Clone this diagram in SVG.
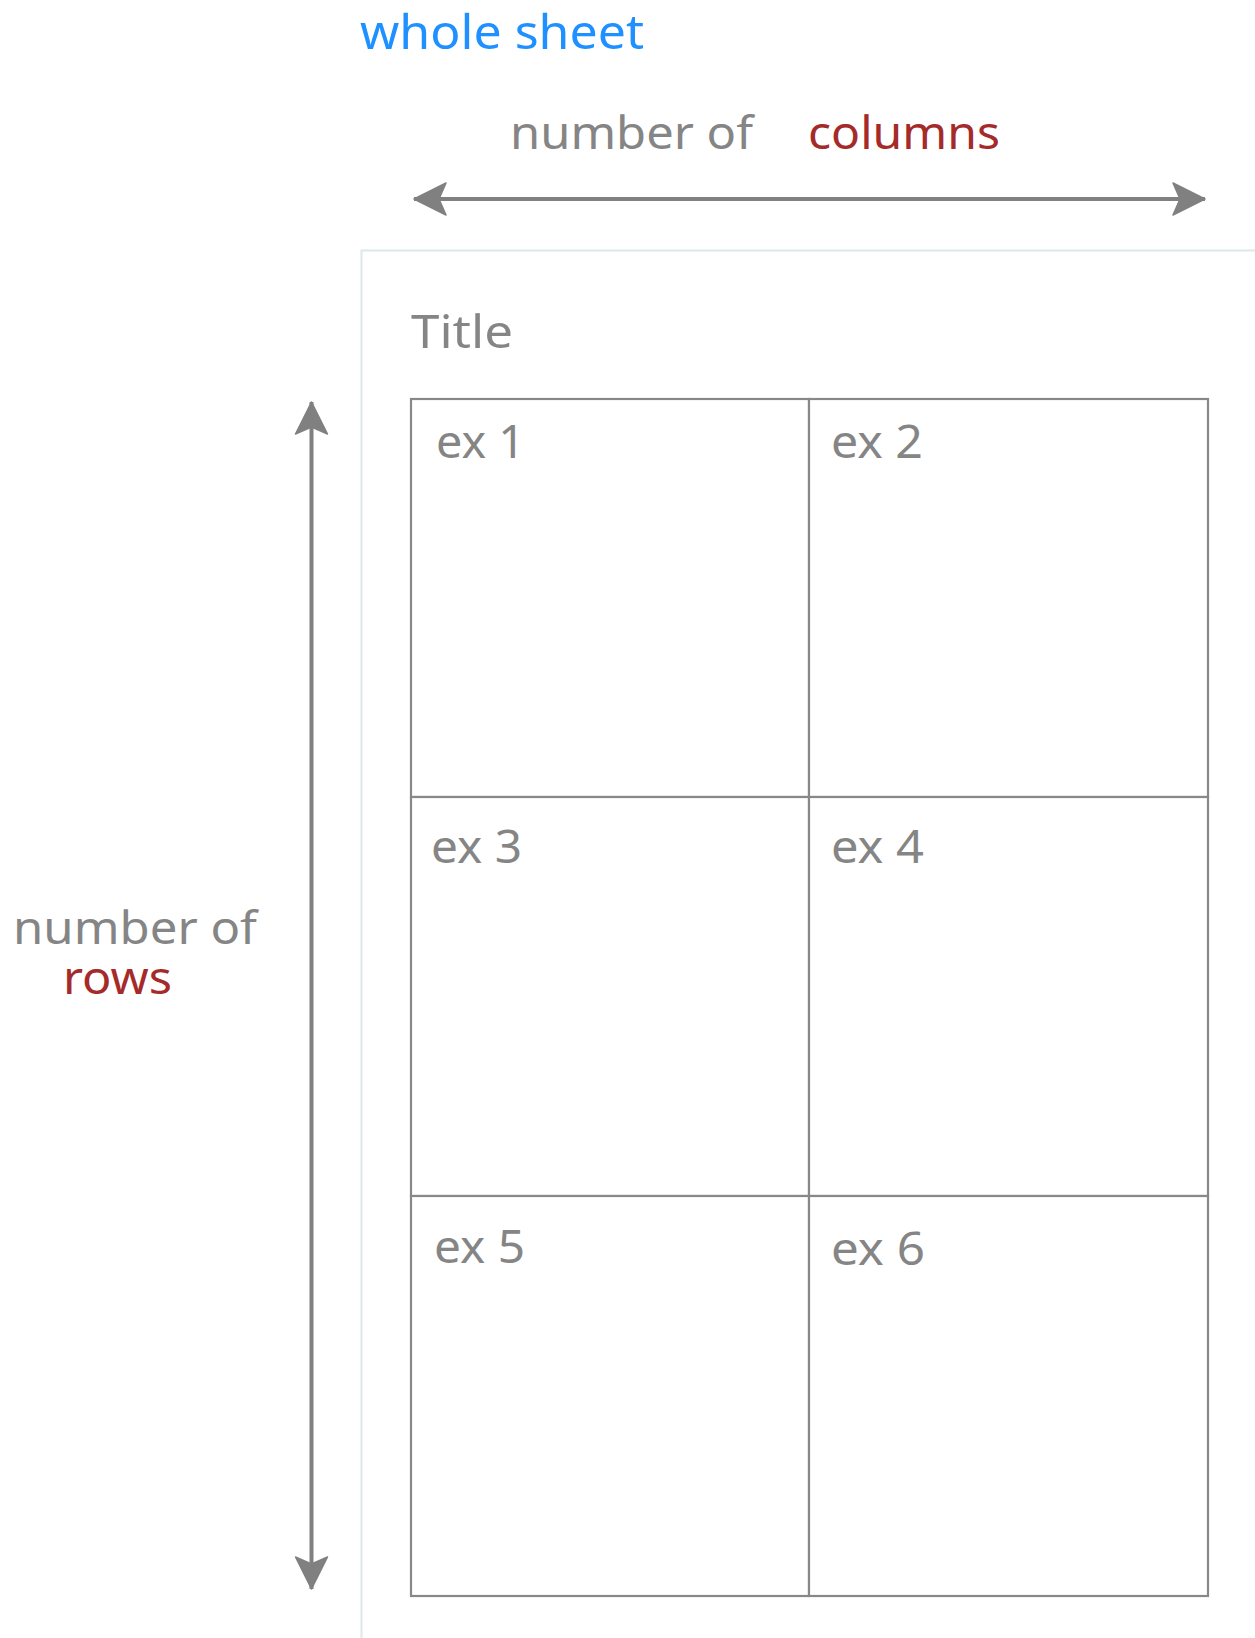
<svg xmlns="http://www.w3.org/2000/svg" width="1255" height="1638" viewBox="0 0 1255 1638">
<defs>
<style>
text{font-family:"Noto Sans","Open Sans","DejaVu Sans",sans-serif;}
.g{fill:#858585;font-size:46px;}
.r{fill:#a52a2a;font-size:46px;}
.b{fill:#1e90ff;font-size:47px;}
.cell{fill:#ffffff;stroke:#888888;stroke-width:2.2;}
.arr{stroke:#808080;stroke-width:4;fill:none;marker-start:url(#ah);marker-end:url(#ah);}
</style>
<marker id="ah" markerUnits="userSpaceOnUse" viewBox="-34 -18 36 36" refX="0" refY="0" markerWidth="36" markerHeight="36" orient="auto-start-reverse">
<path d="M0 0 L-32 -16 L-25 0 L-32 16 Z" fill="#808080" stroke="#808080" stroke-width="1.5" stroke-linejoin="round"/>
</marker>
</defs>
<g id="labels">
<text class="b" x="360" y="49" textLength="284" lengthAdjust="spacingAndGlyphs">whole sheet</text>
<text class="g" x="510" y="149" textLength="243" lengthAdjust="spacingAndGlyphs">number of</text>
<text class="r" x="808" y="149" textLength="192" lengthAdjust="spacingAndGlyphs">columns</text>
<text class="g" x="13" y="944" textLength="244" lengthAdjust="spacingAndGlyphs">number of</text>
<text class="r" x="63" y="994" textLength="109" lengthAdjust="spacingAndGlyphs">rows</text>
</g>
<g id="sheet">
<rect x="361.5" y="250.5" width="910" height="1400" fill="#ffffff" stroke="#dce8ea" stroke-width="2"/>
<text class="g" x="411" y="348" textLength="102" lengthAdjust="spacingAndGlyphs">Title</text>
</g>
<g id="ex1"><rect class="cell" x="411" y="399" width="398" height="398"/><text class="g" x="436" y="458" textLength="89" lengthAdjust="spacingAndGlyphs">ex 1</text></g>
<g id="ex2"><rect class="cell" x="809" y="399" width="399" height="398"/><text class="g" x="831" y="458" textLength="92" lengthAdjust="spacingAndGlyphs">ex 2</text></g>
<g id="ex3"><rect class="cell" x="411" y="797" width="398" height="399"/><text class="g" x="431" y="863" textLength="91" lengthAdjust="spacingAndGlyphs">ex 3</text></g>
<g id="ex4"><rect class="cell" x="809" y="797" width="399" height="399"/><text class="g" x="831" y="863" textLength="93" lengthAdjust="spacingAndGlyphs">ex 4</text></g>
<g id="ex5"><rect class="cell" x="411" y="1196" width="398" height="400"/><text class="g" x="434" y="1263" textLength="91" lengthAdjust="spacingAndGlyphs">ex 5</text></g>
<g id="ex6"><rect class="cell" x="809" y="1196" width="399" height="400"/><text class="g" x="831" y="1265" textLength="94" lengthAdjust="spacingAndGlyphs">ex 6</text></g>
<g id="connectors">
<line class="arr" x1="414" y1="199" x2="1205" y2="199"/>
<line class="arr" x1="311.5" y1="402" x2="311.5" y2="1589"/>
</g>
</svg>
